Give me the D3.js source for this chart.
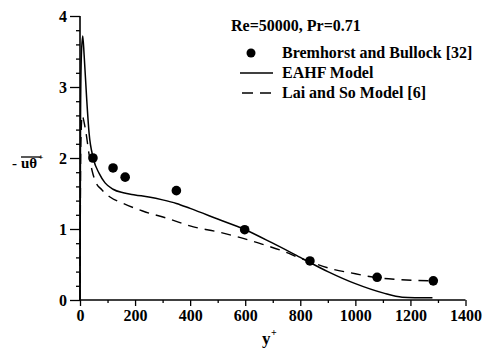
<!DOCTYPE html>
<html>
<head>
<meta charset="utf-8">
<script src="https://cdn.jsdelivr.net/npm/d3@7"></script>
<style>
  body { margin: 0; background: #fff; }
  svg { display: block; }
  svg text { font-family: "Liberation Serif", "Tinos", "Times New Roman", "DejaVu Serif", serif !important; font-weight: bold; fill: #000; }
</style>
</head>
<body>
<svg id="svg" width="487" height="352"></svg>
<script>
// Bremhorst and Bullock [32] measurements
const expX = [47, 120, 164, 350, 598, 835, 1079, 1283]
const expY = [2.0, 1.86, 1.73, 1.54, 0.99, 0.55, 0.32, 0.27]

// EAHF model
const eahfX = [0, 2, 5, 10, 15, 24, 33, 48, 70, 91, 120, 157, 200, 250, 300, 350, 400, 500, 600, 700, 800, 900, 1000, 1100, 1170, 1280]
const eahfY = [0, 2.6, 3.45, 3.72, 3.45, 2.85, 2.35, 2.0, 1.78, 1.65, 1.56, 1.51, 1.48, 1.45, 1.41, 1.36, 1.29, 1.14, 0.99, 0.80, 0.60, 0.40, 0.23, 0.10, 0.04, 0.03]

// Lai and So model [6]
const laiX = [0, 3, 8, 15, 22, 33, 44, 55, 80, 109, 157, 230, 317, 412, 500, 572, 650, 729, 813, 922, 1000, 1068, 1150, 1283]
const laiY = [0, 2.2, 2.6, 2.5, 2.35, 2.05, 1.82, 1.68, 1.55, 1.45, 1.36, 1.25, 1.15, 1.03, 0.96, 0.89, 0.80, 0.70, 0.57, 0.43, 0.37, 0.32, 0.29, 0.27]

const xTicks = [0, 200, 400, 600, 800, 1000, 1200, 1400]
const yTicks = [0, 1, 2, 3, 4]
const legendLabels = ['Bremhorst and Bullock [32]', 'EAHF Model', 'Lai and So Model [6]']
const title = 'Re=50000, Pr=0.71'

const svg = d3.select('#svg')

const xScale = d3.scaleLinear().domain([0, 1400]).range([80, 465.5])
const yScale = d3.scaleLinear().domain([0, 4]).range([300, 16])

// axes
const xAxis = d3.axisBottom(xScale).tickValues(xTicks).tickSize(6).tickFormat(d3.format('d'))
const xMinor = d3.axisBottom(xScale).tickValues(d3.range(100, 1400, 200)).tickSize(3).tickFormat('')
const yAxis = d3.axisLeft(yScale).tickValues(yTicks).tickSize(10).tickFormat(d3.format('d'))
const yMinor = d3.axisLeft(yScale).tickValues(d3.range(0, 4, 0.2).filter(v => Math.abs(v - Math.round(v)) > 0.01)).tickSize(4).tickFormat('')

const gx = svg.append('g').attr('transform', 'translate(0,300)').call(xAxis)
svg.append('g').attr('transform', 'translate(0,300)').call(xMinor).select('.domain').remove()
const gy = svg.append('g').attr('transform', 'translate(80,0)').call(yAxis)
svg.append('g').attr('transform', 'translate(80,0)').call(yMinor).select('.domain').remove()

gx.select('.domain').attr('d', `M80,0H${xScale(1400)}`).attr('stroke-width', 1.6)
gy.select('.domain').attr('d', `M0,${yScale(0)}V${yScale(4)}`).attr('stroke-width', 1.6)
svg.selectAll('.tick line').attr('stroke-width', 1.3)
gx.selectAll('.tick text').attr('y', 10).attr('font-size', 16)
gy.selectAll('.tick text').attr('x', -13).attr('font-size', 16)

// lines
const line = d3.line().x(d => xScale(d[0])).y(d => yScale(d[1])).curve(d3.curveMonotoneX)

svg.append('path')
  .datum(laiX.map((x, i) => [x, laiY[i]]))
  .attr('d', line)
  .attr('fill', 'none').attr('stroke', '#000').attr('stroke-width', 1.4)
  .attr('stroke-dasharray', '10,7')

svg.append('path')
  .datum(eahfX.map((x, i) => [x, eahfY[i]]))
  .attr('d', line)
  .attr('fill', 'none').attr('stroke', '#000').attr('stroke-width', 1.5)

svg.selectAll('circle.exp')
  .data(expX.map((x, i) => [x, expY[i]]))
  .enter()
  .append('circle')
  .attr('class', 'exp')
  .attr('cx', d => xScale(d[0]))
  .attr('cy', d => yScale(d[1]))
  .attr('r', 4.8)
  .attr('fill', '#000')

// legend
svg.append('text').attr('x', 231).attr('y', 31).attr('font-size', 16).text(title)
const lg = svg.append('g')
lg.append('circle').attr('cx', 251).attr('cy', 53).attr('r', 4.5).attr('fill', '#000')
lg.append('line').attr('x1', 240).attr('x2', 273).attr('y1', 73).attr('y2', 73)
  .attr('stroke', '#000').attr('stroke-width', 1.4)
lg.append('line').attr('x1', 242).attr('x2', 273).attr('y1', 93).attr('y2', 93)
  .attr('stroke', '#000').attr('stroke-width', 1.4).attr('stroke-dasharray', '11,7')
lg.selectAll('text.lab')
  .data(legendLabels)
  .enter()
  .append('text')
  .attr('class', 'lab')
  .attr('x', 282)
  .attr('y', (d, i) => 58 + i * 20)
  .attr('font-size', 16)
  .text(d => d)

// axis titles
svg.append('text').attr('x', 262).attr('y', 344).attr('font-size', 17).text('y')
svg.append('text').attr('x', 271).attr('y', 336).attr('font-size', 10).text('+')

svg.append('text').attr('x', 12).attr('y', 168).attr('font-size', 15).text('-')
const ut = svg.append('text').attr('x', 21).attr('y', 168).attr('font-size', 15).text('uθ')
const bb = ut.node().getBBox()
svg.append('line').attr('x1', bb.x).attr('x2', bb.x + bb.width + 4)
  .attr('y1', bb.y + 2).attr('y2', bb.y + 2).attr('stroke', '#000').attr('stroke-width', 1.3)
svg.append('text').attr('x', bb.x + bb.width + 1).attr('y', bb.y + 5).attr('font-size', 9).text('+')
</script>
</body>
</html>
